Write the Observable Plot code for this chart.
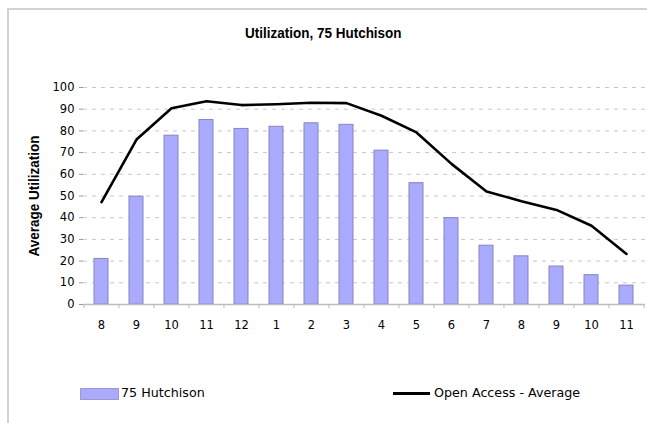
<!DOCTYPE html>
<html>
<head>
<meta charset="utf-8">
<script src="https://cdn.jsdelivr.net/npm/d3@7"></script>
<script src="https://cdn.jsdelivr.net/npm/@observablehq/plot@0.6"></script>
<style>
  html, body { margin: 0; padding: 0; background: #fff; }
  #wrap { position: relative; width: 647px; height: 423px; overflow: hidden; font-family: "DejaVu Sans", sans-serif; }
  #frame { position: absolute; left: 7px; top: 8px; width: 660px; height: 440px; border-left: 2px solid #d2d2d2; border-top: 2px solid #d2d2d2; }
  #title { position: absolute; left: 0; width: 647px; top: 24px; text-align: center; font-family: "Liberation Sans", sans-serif; font-weight: bold; font-size: 15.5px; color: #000; transform: scaleX(0.87); transform-origin: 322px 0; }
  #ytitle { position: absolute; left: 34px; top: 196px; transform: translate(-50%, -50%) rotate(-90deg) scaleX(0.93); white-space: nowrap; font-family: "Liberation Sans", sans-serif; font-weight: bold; font-size: 14.5px; }
  #chart { position: absolute; left: 0; top: 0; }
  .leg { position: absolute; font-size: 12.7px; font-family: "DejaVu Sans", sans-serif; line-height: 1; white-space: nowrap; }
</style>
</head>
<body>
<div id="wrap">
  <div id="frame"></div>
  <div id="chart"></div>
  <div id="title">Utilization, 75 Hutchison</div>
  <div id="ytitle">Average Utilization</div>
  <div id="legend"></div>
</div>
<script>
const hourLabels = ["8","9","10","11","12","1","2","3","4","5","6","7","8","9","10","11"];
const hutchison = [21, 49.7, 77.8, 85.0, 80.9, 81.9, 83.5, 82.8, 70.9, 55.9, 39.8, 27.1, 22.2, 17.5, 13.5, 8.7];
const openAccess = [47.2, 76.0, 90.4, 93.7, 91.9, 92.3, 93.0, 92.8, 87.0, 79.3, 64.8, 52.1, 47.6, 43.6, 36.3, 23.3];
const yTicks = [0,10,20,30,40,50,60,70,80,90,100];
const seriesNames = ["75 Hutchison", "Open Access - Average"];

const idx = hourLabels.map((_, i) => i);
const barData = idx.map(i => ({i, v: hutchison[i]}));
const lineData = idx.map(i => ({i, v: openAccess[i]}));

const W = 647, H = 345, mL = 83, mR = 2;
const step = (W - mL - mR) / hourLabels.length;

const plot = Plot.plot({
  width: W,
  height: H,
  marginTop: 87,
  marginBottom: 41,
  marginLeft: mL,
  marginRight: mR,
  style: {fontFamily: "DejaVu Sans, sans-serif", fontSize: "11.5px", color: "#000", background: "transparent"},
  x: {domain: idx, paddingInner: 0.59, paddingOuter: 0.295, label: null},
  y: {domain: [0, 100], label: null},
  marks: [
    Plot.ruleY(yTicks.filter(d => d > 0), {stroke: "#c8c8c8", strokeDasharray: "4,5", strokeWidth: 1}),
    Plot.axisY({ticks: yTicks, tickSize: 4, tickPadding: 5, stroke: "#999", label: null, fontSize: 11.5}),
    Plot.axisX({tickSize: 0, tickPadding: 16, tickFormat: i => hourLabels[i], label: null, fontSize: 11.5}),
    Plot.ruleX(idx, {x: d => d, dx: -step / 2, y1: 0, y2: -1.9, stroke: "#bbb"}),
    Plot.ruleX([idx.length - 1], {x: d => d, dx: step / 2, y1: 0, y2: -1.9, stroke: "#bbb"}),
    Plot.barY(barData, {x: "i", y: "v", fill: "#aaaaff", stroke: "#8585c0", strokeWidth: 1}),
    Plot.ruleY([0], {stroke: "#bdbdbd", strokeWidth: 1.5}),
    Plot.line(lineData, {x: "i", y: "v", stroke: "#000", strokeWidth: 2.6, strokeLinejoin: "round"})
  ]
});
document.getElementById("chart").appendChild(plot);

const legend = document.getElementById("legend");
legend.innerHTML = `
  <div style="position:absolute;left:80px;top:388px;width:37px;height:10px;background:#aaaaff;border:1px solid #9a9ad0;"></div>
  <div class="leg" style="left:121px;top:387px;">${seriesNames[0]}</div>
  <div style="position:absolute;left:393px;top:392px;width:37px;height:3px;background:#000;"></div>
  <div class="leg" style="left:434px;top:387px;">${seriesNames[1]}</div>
`;
</script>
</body>
</html>
